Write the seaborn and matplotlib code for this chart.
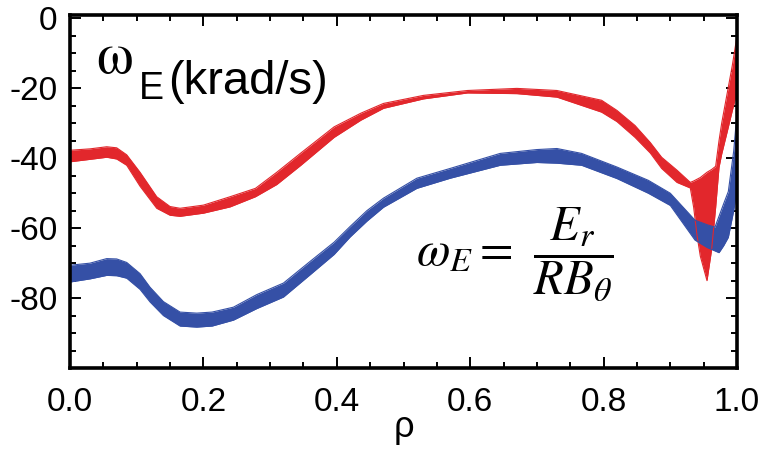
import matplotlib
matplotlib.use('Agg')
import matplotlib.pyplot as plt
from matplotlib.ticker import MultipleLocator
import seaborn as sns
import pandas as pd

# band edges (omega_E in krad/s vs rho)
rho_red = [0.0, 0.03, 0.055, 0.07, 0.085, 0.105, 0.13, 0.15, 0.165, 0.2, 0.24, 0.278, 0.31,
           0.346, 0.396, 0.436, 0.47, 0.53, 0.596, 0.67, 0.73, 0.797, 0.82, 0.847, 0.87, 0.887,
           0.91, 0.93, 0.935, 0.94, 0.945, 0.955, 0.962, 0.968, 0.973, 0.977, 0.985,
           0.993, 1.0]
red_upper = [-37.7, -37.3, -36.7, -37.0, -39.0, -44.0, -51.0, -53.8, -54.3, -53.4, -51.0, -48.6, -44.0,
             -38.5, -31.0, -27.1, -24.3, -22.0, -20.6, -20.0, -20.6, -23.4, -26.3, -30.6, -35.5, -39.7,
             -43.4, -46.9, -46.5, -46.0, -45.5, -44.0, -43.2, -42.3, -35.0, -30.0, -21.7,
             -13.4, -5.0]
red_lower = [-41.0, -40.3, -39.7, -40.2, -42.0, -48.0, -54.3, -56.3, -56.6, -55.7, -53.9, -51.0, -47.5,
             -42.0, -34.0, -29.1, -25.7, -23.0, -21.3, -21.5, -22.5, -26.8, -29.5, -34.0, -38.5, -42.9,
             -46.9, -48.5, -54.0, -62.0, -68.0, -75.0, -66.0, -54.0, -42.6, -38.8, -32.6,
             -26.3, -21.0]

rho_blue = [0.0, 0.03, 0.055, 0.07, 0.085, 0.105, 0.12, 0.14, 0.165, 0.19, 0.213, 0.245, 0.28,
            0.32, 0.36, 0.396, 0.42, 0.445, 0.47, 0.52, 0.57, 0.645, 0.70, 0.73, 0.767, 0.82,
            0.867, 0.9, 0.937, 0.955, 0.967, 0.973, 0.98, 0.987, 0.995, 1.0]
blue_upper = [-70.6, -70.0, -68.7, -68.8, -69.8, -73.0, -76.9, -81.0, -84.0, -84.3, -84.0, -82.6, -79.0,
              -75.7, -69.5, -64.0, -59.5, -55.0, -51.4, -45.7, -42.9, -38.6, -37.5, -37.2, -38.6, -42.5,
              -46.3, -50.0, -57.7, -59.0, -59.7, -56.6, -53.0, -49.5, -38.0, -27.0]
blue_lower = [-75.4, -74.5, -73.5, -73.6, -74.3, -77.5, -81.1, -85.0, -88.0, -88.3, -88.0, -86.3, -83.0,
              -79.7, -73.3, -67.5, -62.5, -58.0, -54.0, -48.6, -45.7, -42.0, -41.2, -41.4, -42.0, -45.8,
              -50.0, -53.5, -63.4, -65.5, -66.5, -67.0, -65.0, -62.6, -55.0, -49.0]

red = '#e2272c'
blue = '#3550a6'

sns.set_style('ticks')
plt.rcParams['font.family'] = ['Liberation Sans', 'DejaVu Sans']
plt.rcParams['axes.unicode_minus'] = False
plt.rcParams['mathtext.fontset'] = 'stix'
plt.rcParams['text.color'] = 'black'
plt.rcParams['xtick.labelcolor'] = 'black'
plt.rcParams['ytick.labelcolor'] = 'black'
plt.rcParams['axes.labelcolor'] = 'black'

fig = plt.figure(figsize=(7.66, 4.51), dpi=100)
ax = fig.add_axes([70 / 766, 1 - 368 / 451, 667 / 766, 353 / 451])

for rho, up, lo, col in [(rho_red, red_upper, red_lower, red),
                         (rho_blue, blue_upper, blue_lower, blue)]:
    ax.fill_between(rho, lo, up, color=col, lw=0)
    df = pd.DataFrame({'rho': rho, 'upper': up, 'lower': lo}).melt(
        'rho', var_name='edge', value_name='w')
    sns.lineplot(data=df, x='rho', y='w', units='edge', estimator=None,
                 color=col, lw=0.8, ax=ax)

ax.set_xlim(0, 1)
ax.set_ylim(-100, 1)
ax.set_xticks([0.0, 0.2, 0.4, 0.6, 0.8, 1.0])
ax.set_yticks([-80, -60, -40, -20, 0])
ax.xaxis.set_minor_locator(MultipleLocator(0.05))
ax.yaxis.set_minor_locator(MultipleLocator(5))
ax.tick_params(which='both', direction='in', top=True, right=True, width=1.4, color='black')
ax.tick_params(which='major', length=8, labelsize=24)
ax.tick_params(axis='x', which='major', pad=14)
ax.tick_params(axis='y', which='major', pad=9)
ax.tick_params(which='minor', length=4)
for s in ax.spines.values():
    s.set_linewidth(2.6)
    s.set_color('black')

ax.set_xlabel('ρ', fontsize=26, labelpad=-6)
ax.set_ylabel('')

# panel label
t1 = ax.text(0.04, 0.835, 'ω', transform=ax.transAxes, fontsize=42,
             family='STIXGeneral', va='baseline')
t2 = ax.annotate('E', xy=(1, 0), xycoords=t1, xytext=(4, -9), textcoords='offset points',
                 fontsize=27, va='baseline')
ax.annotate('(krad/s)', xy=(1, 0), xycoords=t2, xytext=(3, 9), textcoords='offset points',
            fontsize=34, va='baseline')

# definition of omega_E
ax.text(0.663, 0.29, r'$\omega_E =$', transform=ax.transAxes,
        fontsize=35, ha='right', va='baseline')
ax.text(0.755, 0.293, r'$\dfrac{E_r}{RB_\theta}$', transform=ax.transAxes,
        fontsize=35, ha='center', va='baseline')

fig.savefig('out.png', dpi=100)
